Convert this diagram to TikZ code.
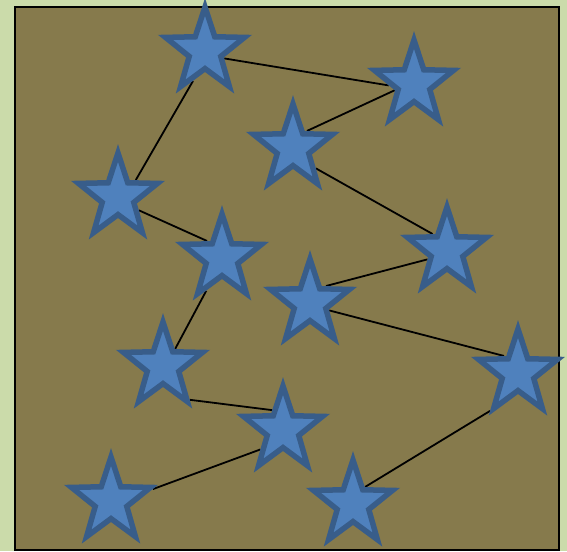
\documentclass[tikz,border=0pt]{standalone}
\usetikzlibrary{shapes.geometric}
\definecolor{BackClr}{RGB}{203,219,170}
\definecolor{BoardClr}{RGB}{134,122,76}
\definecolor{StarClr}{RGB}{79,129,189}
\definecolor{StarEdgeClr}{RGB}{56,93,138}
\pgfdeclarelayer{board}
\pgfdeclarelayer{links}
\pgfsetlayers{board,links,main}

\begin{document}
\begin{tikzpicture}[x=1pt,y=-1pt,
  bluestar/.style={star,star points=5,star point ratio=2.5,minimum size=83pt,
    inner sep=0pt,yscale=1.06,fill=StarClr,draw=StarEdgeClr,line width=5.5pt},
  chainline/.style={line width=1.8pt,color=black}]

% Background and the board.
\begin{pgfonlayer}{board}
\fill[BackClr] (0,0) rectangle (567,551);
\draw[fill=BoardClr,line width=2pt] (14.5,7) rectangle (559,549.5);
\end{pgfonlayer}
\useasboundingbox (0,0) rectangle (567,551);

% Place the stars.
\node[bluestar] (A) at (205,51) {};
\node[bluestar] (B) at (414,84) {};
\node[bluestar] (C) at (293,148) {};
\node[bluestar] (D) at (118,197) {};
\node[bluestar] (E) at (222,258) {};
\node[bluestar] (F) at (447,251) {};
\node[bluestar] (G) at (310,303) {};
\node[bluestar] (H) at (163,366) {};
\node[bluestar] (I) at (518,373) {};
\node[bluestar] (J) at (283,430) {};
\node[bluestar] (K) at (111,501) {};
\node[bluestar] (L) at (353,504) {};

% Join the stars into one chain, behind them.
\begin{pgfonlayer}{links}
\draw[chainline] (K.15) -- (J.219);
\draw[chainline] (J.120) -- (H.-50);
\draw[chainline] (H.53) -- (E.243);
\draw[chainline] (E.133) -- (D.-31);
\draw[chainline] (D.42) -- (A.247);
\draw[chainline] (A.-20) -- (B.183);
\draw[chainline] (B.197) -- (C.49);
\draw[chainline] (C.-40) -- (F.132);
\draw[chainline] (F.202) -- (G.45);
\draw[chainline] (G.-20) -- (I.131);
\draw[chainline] (I.232) -- (L.53);
\end{pgfonlayer}

\end{tikzpicture}
\end{document}
